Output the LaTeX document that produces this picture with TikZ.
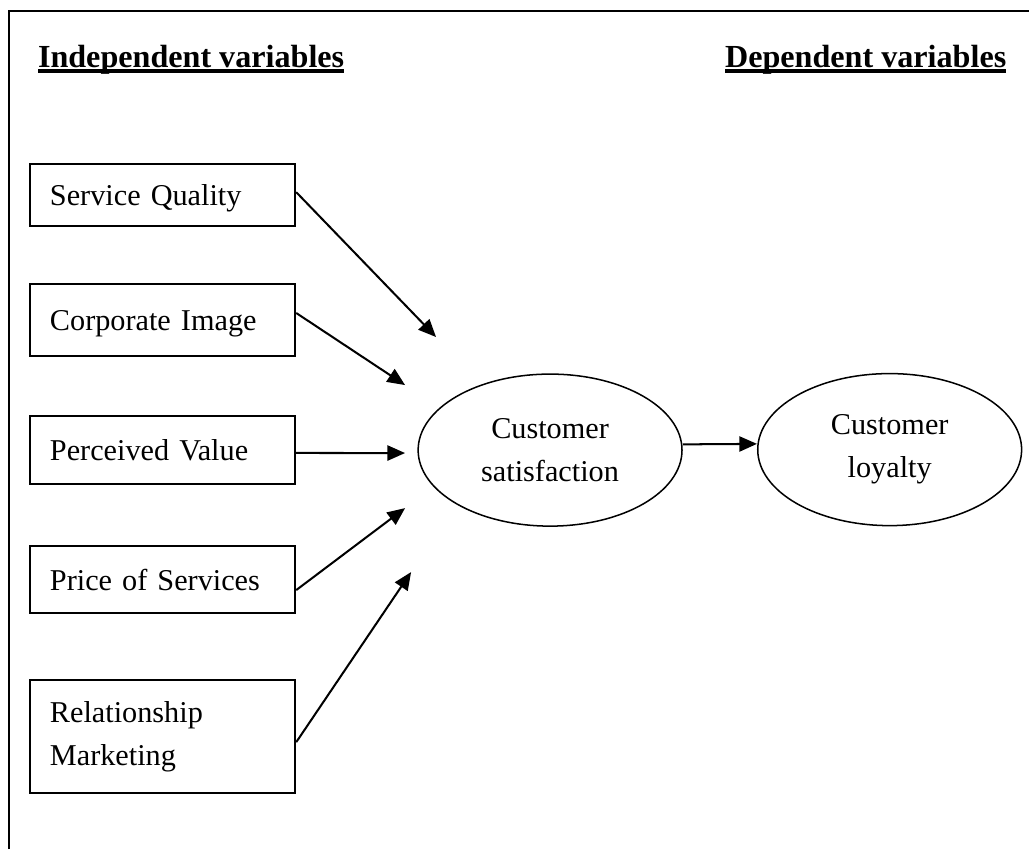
\documentclass[tikz,border=0pt]{standalone}
\usepackage{fontspec}
\setmainfont{Liberation Serif}
\usetikzlibrary{arrows.meta,shapes.geometric}
\newcommand\ulhead[1]{\setbox0\hbox{\bfseries #1}\rlap{\rule[-2.3pt]{\wd0}{1.6pt}}\box0}

\begin{document}
\begin{tikzpicture}[
  >={Triangle[length=7pt,width=6pt]},
  line width=0.8pt,
  var/.style={draw, minimum width=3.70cm, text width=3.14cm, inner xsep=0.28cm,
    inner ysep=0pt, align=left, font=\fontsize{12}{17}\selectfont},
  onevar/.style={var, text depth=0pt},
  construct/.style={draw, ellipse, line width=0.6pt, minimum width=3.68cm,
    minimum height=2.12cm, inner sep=0pt, align=center, font=\fontsize{12}{17}\selectfont},
  head/.style={anchor=base west, inner sep=0pt, font=\fontsize{12.75}{15}\selectfont}
]
\useasboundingbox (0,0) rectangle (14.35,-11.84);
\draw (0.13,-11.84) -- (0.13,-0.15) -- (14.35,-0.15);

\node[head] (indep) at (0.516,-0.935) {\ulhead{Independent variables}};
\node[head] (dep) at (10.098,-0.935) {\ulhead{Dependent variables}};

\node[onevar, minimum height=0.865cm] (sq) at (2.267,-2.720) {Service Quality};
\node[onevar, minimum height=1.004cm] (ci) at (2.267,-4.463) {Corporate Image};
\node[onevar, minimum height=0.948cm] (pv) at (2.267,-6.277) {Perceived Value};
\node[onevar, minimum height=0.935cm] (ps) at (2.267,-8.083) {Price of Services};
\node[var, minimum height=1.576cm] (rm) at (2.267,-10.273) {Relationship\\Marketing};

\node[construct] (sat) at (7.671,-6.277) {Customer\\satisfaction};
\node[construct] (loy) at (12.407,-6.270) {Customer\\loyalty};

\coordinate (in1) at (6.081,-4.700);
\coordinate (in2) at (5.649,-5.370);
\coordinate (in3) at (5.649,-6.318);
\coordinate (in4) at (5.649,-7.086);
\coordinate (in5) at (5.733,-7.978);

\draw[->] ([yshift=0.04cm]sq.east) -- (in1);
\draw[->] ([yshift=0.098cm]ci.east) -- (in2);
\draw[->] ([yshift=-0.04cm]pv.east) -- (in3);
\draw[->] ([yshift=-0.146cm]ps.east) -- (in4);
\draw[->] ([yshift=-0.077cm]rm.east) -- (in5);

\draw[->] ([yshift=0.08cm]sat.east) -- ([yshift=0.08cm]loy.west);

\end{tikzpicture}
\end{document}
